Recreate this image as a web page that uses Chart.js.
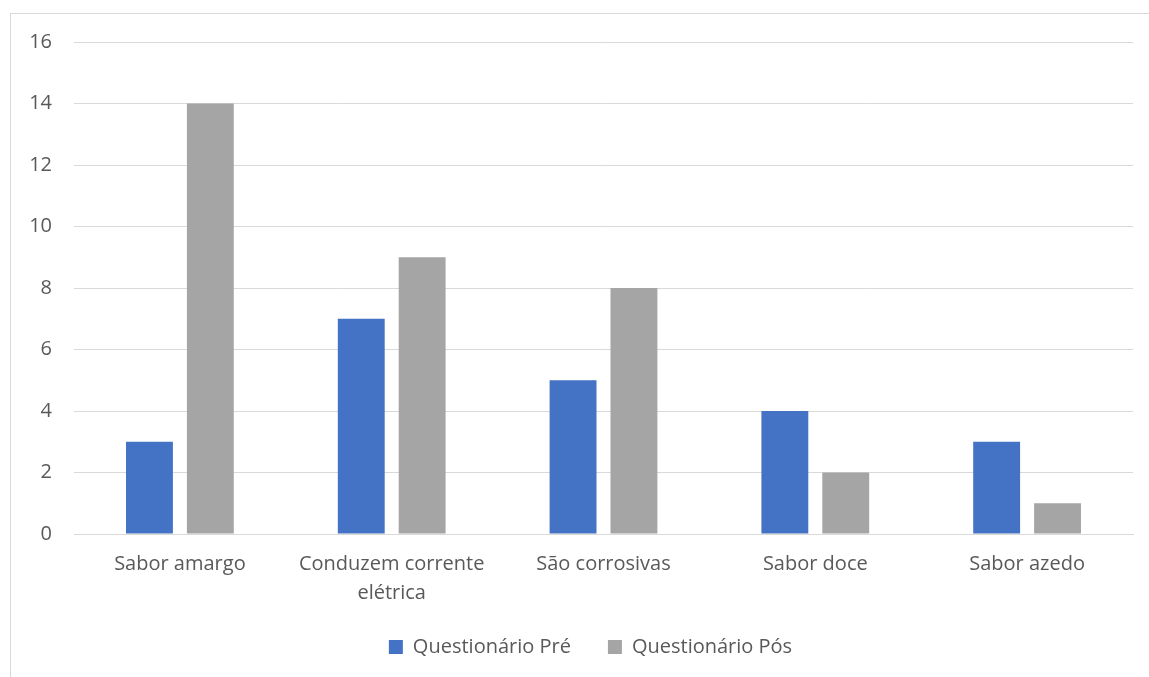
<!DOCTYPE html>
<html>
<head>
<meta charset="utf-8">
<script src="https://cdn.jsdelivr.net/npm/chart.js@4"></script>
<style>
  html, body { margin: 0; padding: 0; background: #fff; overflow: hidden; }
  #frame { position: absolute; left: 10px; top: 13px; width: 1200px; height: 700px; border: 1px solid #d9d9d9; }
  #wrap { position: absolute; left: 0; top: 0; width: 1149px; height: 677px; }
</style>
</head>
<body>
<div id="frame"></div>
<div id="wrap"><canvas id="grafico"></canvas></div>
<script>
// categorias e valores
const categorias = ["Sabor amargo", ["Conduzem corrente", "elétrica"], "São corrosivas", "Sabor doce", "Sabor azedo"];
const valoresPre = [3, 7, 5, 4, 3];
const valoresPos = [14, 9, 8, 2, 1];
const corPre = "#4472C4";
const corPos = "#A5A5A5";
const corTexto = "#595959";

Chart.defaults.font.family = "'Open Sans', 'Liberation Sans', sans-serif";
Chart.defaults.color = corTexto;

// legenda um pouco deslocada para a direita, como no original
const moveLegenda = {
    id: "moveLegenda",
    afterLayout: function(chart) {
        chart.legend.left += 48;
    }
};

var ctx = document.getElementById("grafico").getContext("2d");
window.grafico = new Chart(ctx, {
    type: "bar",
    data: {
        labels: categorias,
        datasets: [
            { label: "Questionário Pré", data: valoresPre, backgroundColor: corPre },
            { label: "Questionário Pós", data: valoresPos, backgroundColor: corPos }
        ]
    },
    plugins: [moveLegenda],
    options: {
        responsive: true,
        maintainAspectRatio: false,
        animation: false,
        layout: { padding: { top: 42, right: 16, left: 0, bottom: 10 } },
        datasets: { bar: { categoryPercentage: 0.575, barPercentage: 0.77 } },
        plugins: {
            tooltip: { enabled: false },
            legend: {
                position: "bottom",
                labels: { boxWidth: 14, boxHeight: 14, padding: 37, font: { size: 20 }, color: corTexto }
            }
        },
        scales: {
            x: {
                grid: { display: false },
                border: { color: "#d9d9d9", width: 1 },
                ticks: { font: { size: 20, lineHeight: 1.45 }, padding: 8, maxRotation: 0, autoSkip: false, color: corTexto },
                afterFit: function(scale) { scale.height = 66; }
            },
            y: {
                min: 0, max: 16,
                ticks: { stepSize: 2, font: { size: 20 }, padding: 22, color: corTexto },
                grid: { color: "#d9d9d9", lineWidth: 1, drawTicks: false },
                border: { display: false },
                afterFit: function(scale) { scale.width = 74; }
            }
        }
    }
});
</script>
</body>
</html>
